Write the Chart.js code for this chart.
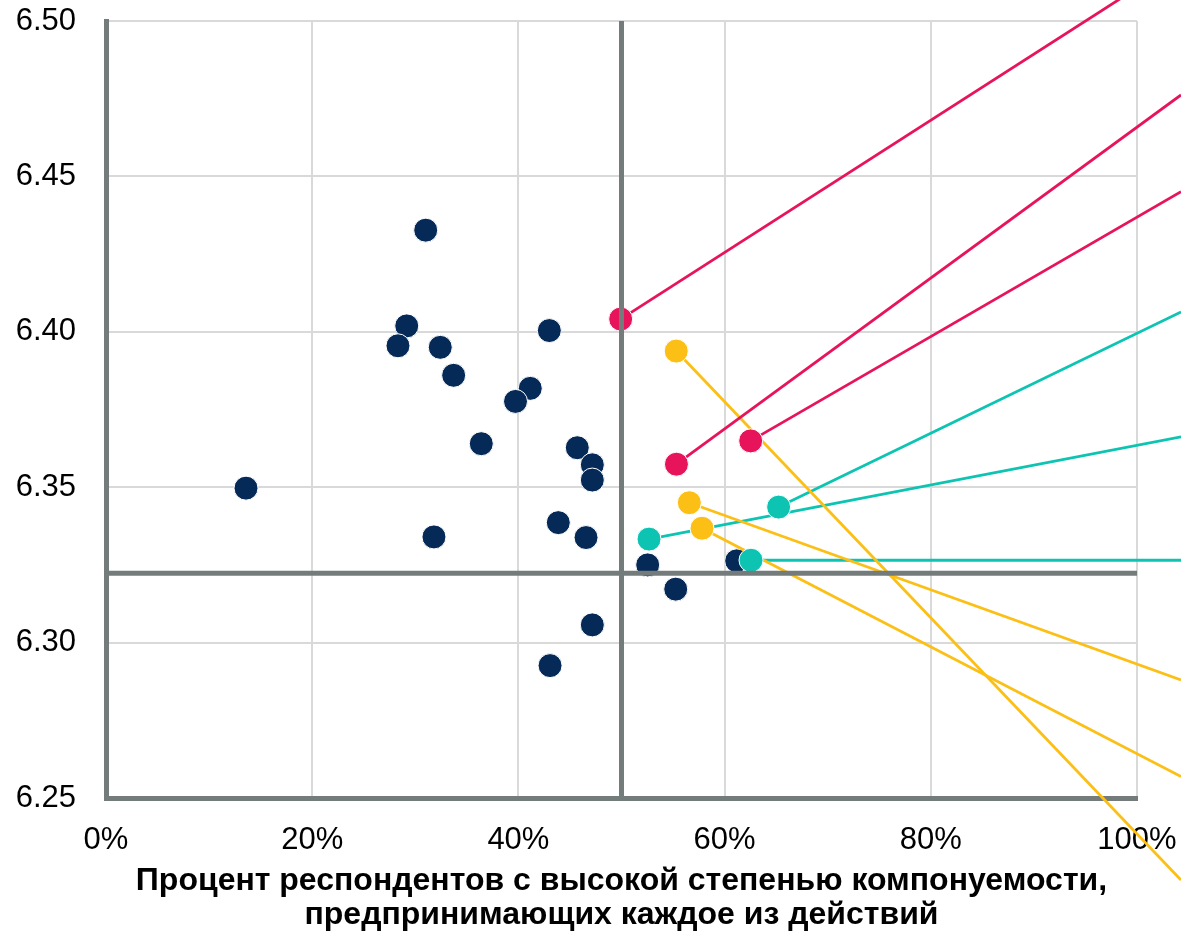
<!DOCTYPE html>
<html>
<head>
<meta charset="utf-8">
<script src="https://cdn.jsdelivr.net/npm/chart.js@4"></script>
<style>
  body { margin: 0; background: #fff; }
  #wrap { width: 1181px; height: 932px; }
</style>
</head>
<body>
<div id="wrap"><canvas id="chart_scatter" width="1181" height="932"></canvas></div>
<script>
// navy points (no connector)
let navyX = [0.1358, 0.3101, 0.2917, 0.2832, 0.3242, 0.3372, 0.4300, 0.4115, 0.3972, 0.3640, 0.4571,
             0.4717, 0.4717, 0.4387, 0.3181, 0.4656, 0.5254, 0.5526, 0.4717, 0.4307, 0.6117];
let navyY = [6.3497, 6.4327, 6.4019, 6.3955, 6.3950, 6.3860, 6.4004, 6.3818, 6.3776, 6.3640, 6.3627,
             6.3572, 6.3523, 6.3386, 6.3340, 6.3338, 6.3250, 6.3172, 6.3057, 6.2926, 6.3263];

// highlighted points and where their lines end (past the right edge)
let pinkX = [0.4992, 0.5533, 0.6253];
let pinkY = [6.4041, 6.3574, 6.3649];
let pinkEndY = [6.5197, 6.4762, 6.4451];

let yellowX = [0.5531, 0.5658, 0.5781];
let yellowY = [6.3938, 6.3450, 6.3368];
let yellowEndY = [6.2236, 6.2880, 6.2569];

let tealX = [0.5267, 0.6524, 0.6256];
let tealY = [6.3333, 6.3436, 6.3265];
let tealEndY = [6.3662, 6.4064, 6.3265];

let endX = 1.0427;

// average lines
let crossX = 0.5;
let crossY = 6.3223;

let xTicks = [0, 0.2, 0.4, 0.6, 0.8, 1.0];
let yTicks = [6.25, 6.30, 6.35, 6.40, 6.45, 6.50];

let navy = '#062a57';
let pink = '#e8145b';
let yellow = '#fcbf16';
let teal = '#0dc4b3';
let axisGray = '#747c7b';

function pts(xs, ys) {
    return xs.map((x, i) => ({ x: x, y: ys[i] }));
}

let datasets = [];

// thick gray cross lines on top
datasets.push({
    data: [{ x: crossX, y: 6.25 }, { x: crossX, y: 6.50 }],
    showLine: true, borderColor: axisGray, borderWidth: 5, pointRadius: 0, clip: false
});
datasets.push({
    data: [{ x: 0, y: crossY }, { x: 1, y: crossY }],
    showLine: true, borderColor: axisGray, borderWidth: 5, pointRadius: 0, clip: false
});

let groups = [
    [pinkX, pinkY, pinkEndY, pink],
    [yellowX, yellowY, yellowEndY, yellow],
    [tealX, tealY, tealEndY, teal]
];

// colored points
groups.forEach(g => {
    datasets.push({
        data: pts(g[0], g[1]),
        backgroundColor: g[3], borderColor: '#ffffff', borderWidth: 1,
        pointRadius: 12, clip: false
    });
});

// connector lines
groups.forEach(g => {
    g[0].forEach((x, i) => {
        datasets.push({
            data: [{ x: x, y: g[1][i] }, { x: endX, y: g[2][i] }],
            showLine: true, borderColor: g[3], borderWidth: 2.8,
            pointRadius: 0, clip: false
        });
    });
});

datasets.push({
    data: pts(navyX, navyY),
    backgroundColor: navy, borderColor: '#ffffff', borderWidth: 1,
    pointRadius: 12, clip: false
});

let ctx_scatter = document.getElementById('chart_scatter');

let chart_scatter = new Chart(ctx_scatter, {
    type: 'scatter',
    data: { datasets: datasets },
    options: {
        responsive: false,
        maintainAspectRatio: false,
        animation: false,
        layout: { autoPadding: false, padding: { top: 21, right: 44, left: 0, bottom: 0 } },
        plugins: {
            legend: { display: false },
            tooltip: { enabled: false }
        },
        scales: {
            x: {
                type: 'linear',
                min: 0,
                max: 1,
                afterBuildTicks: s => { s.ticks = xTicks.map(v => ({ value: v })); },
                afterFit: s => { s.height = 134; },
                grid: { color: '#d9d9d9', lineWidth: 2, tickLength: 24, tickColor: 'rgba(0,0,0,0)' },
                border: { color: axisGray, width: 5 },
                ticks: {
                    padding: 0,
                    color: '#000',
                    font: { family: 'Liberation Sans, Arial, sans-serif', size: 31 },
                    callback: v => Math.round(v * 100) + '%'
                },
                title: {
                    display: true,
                    text: ['Процент респондентов с высокой степенью компонуемости,',
                           'предпринимающих каждое из действий'],
                    color: '#000',
                    padding: { top: 0, bottom: 0 },
                    font: { family: 'Liberation Sans, Arial, sans-serif', size: 32, weight: 'bold', lineHeight: 1.05 }
                }
            },
            y: {
                type: 'linear',
                min: 6.25,
                max: 6.50,
                afterBuildTicks: s => { s.ticks = yTicks.map(v => ({ value: v })); },
                afterFit: s => { s.width = 106; },
                grid: { color: '#d9d9d9', lineWidth: 2, tickLength: 30, tickColor: 'rgba(0,0,0,0)' },
                border: { color: axisGray, width: 5 },
                ticks: {
                    padding: 0,
                    color: '#000',
                    font: { family: 'Liberation Sans, Arial, sans-serif', size: 31 },
                    callback: v => v.toFixed(2)
                }
            }
        }
    }
});
</script>
</body>
</html>
